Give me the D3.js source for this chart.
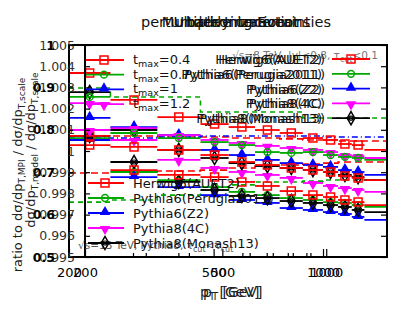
<!DOCTYPE html>
<html>
<head>
<meta charset="utf-8">
<script src="https://cdn.jsdelivr.net/npm/d3@7"></script>
<style>
body{margin:0;background:#fff}
text{font-family:"DejaVu Sans",sans-serif}
</style>
</head>
<body>
<svg id="chart" width="411" height="319"></svg>
<script>
// pT bins (GeV)
var binLo  = [200, 260, 350, 460, 550, 650, 760, 880, 1000, 1100, 1200, 1300];
var binHi  = [260, 350, 460, 550, 650, 760, 880, 1000, 1100, 1200, 1300, 2000];
var binMid = [228, 302, 401, 503, 598, 703, 818, 938, 1049, 1149, 1249, 1612];

// marker series (ratios)
var tmaxRed  = [1.00368, 1.00241, 1.00160, 1.00127, 1.00113, 1.00099, 1.00085, 1.00061, 1.00052, 1.00033, 1.00028, 1.00005];
var greenUp  = [1.00255, 1.00085, 1.00061, 1.00042, 1.00028, 0.99995, 0.99991, 0.99995, 0.99981, 0.99972, 0.99967, 0.99958];
var magUp    = [1.00226, 1.00108, 1.00075, 1.00052, 1.00038, 1.00024, 1.00014, 1.00005, 0.99995, 0.99981, 0.99976, 0.99967];
var blueUp   = [1.00156, 1.00113, 1.00075, 1.00005, 0.99981, 0.99958, 0.99943, 0.99934, 0.99925, 0.99910, 0.99901, 0.99887];
var redUp    = [1.00028, 1.00019, 1.00005, 0.99981, 0.99948, 0.99934, 0.99920, 0.99910, 0.99901, 0.99882, 0.99873, 0.99863];
var blackUp  = [1.00278, 1.00099, 1.00005, 0.99967, 0.99943, 0.99929, 0.99920, 0.99910, 0.99901, 0.99887, 0.99877, 0.99863];
var magMid   = [1.00099, 1.00052, 0.99958, 0.99920, 0.99901, 0.99887, 0.99873, 0.99849, 0.99835, 0.99825, 0.99816, 0.99807];
var redLow   = [1.00071, 0.99910, 0.99887, 0.99877, 0.99854, 0.99835, 0.99811, 0.99792, 0.99783, 0.99769, 0.99759, 0.99745];
var blackLow = [1.00071, 0.99948, 0.99854, 0.99816, 0.99788, 0.99778, 0.99764, 0.99755, 0.99745, 0.99736, 0.99722, 0.99712];
var blueLow  = [1.00052, 0.99877, 0.99830, 0.99792, 0.99769, 0.99755, 0.99731, 0.99722, 0.99712, 0.99703, 0.99689, 0.99675];
var greenLow = [1.00061, 0.99901, 0.99863, 0.99830, 0.99807, 0.99792, 0.99778, 0.99769, 0.99759, 0.99755, 0.99745, 0.99736];

// step (dashed) curves
var greenDashUp = [1.00297, 1.00255, 1.00255, 1.00184, 1.00184, 1.00184, 1.00184, 1.00156, 1.00156, 1.00156, 1.00156, 1.00156];
var redDashUp   = [1.00071, 1.00071, 1.00066, 1.00066, 1.00061, 1.00061, 1.00057, 1.00052, 1.00052, 1.00047, 1.00047, 1.00047];
var blueDashUp  = [1.00061, 1.00061, 1.00066, 1.00071, 1.00071, 1.00071, 1.00071, 1.00071, 1.00066, 1.00066, 1.00066, 1.00066];
var redDashLow  = [0.99896, 0.99901, 0.99906, 0.99910, 0.99920, 0.99929, 0.99934, 0.99939, 0.99943, 0.99948, 0.99948, 0.99948];
var greenDashLow= [0.99759, 0.99769, 0.99792, 0.99816, 0.99840, 0.99854, 0.99854, 0.99858, 0.99863, 0.99863, 0.99863, 0.99863];

// axes ticks / labels
var xMajor = [200, 500, 1000];
var xMinor = [300, 400, 600, 700, 800, 900];
var yTicksB = [0.995, 0.996, 0.997, 0.998, 0.999, 1, 1.001, 1.002, 1.003, 1.004, 1.005];
var yTicksA = [0.5, 0.6, 0.7, 0.8, 0.9, 1];
var titles = ["perturbative uncertainties", "Multiple Interactions", "Underlying Event", "hadronization"];
var tmaxLabels = ["0.4", "0.7", "1", "1.2"];
var genLabels = ["Herwig6(AUET2)", "Pythia6(Perugia2011)", "Pythia6(Z2)", "Pythia8(4C)", "Pythia8(Monash13)"];

var RED = "#ff0000", GRN = "#00a800", BLU = "#0000ff", MAG = "#ff00ff", BLK = "#000000";

var svg = d3.select("#chart");

var xA = d3.scaleLog().domain([200, 1500]).range([69, 387]);
var xB = d3.scaleLog().domain([200, 1500]).range([85, 387]);
var yB = d3.scaleLinear().domain([0.995, 1.005]).range([257, 45]);
var yA = d3.scaleLinear().domain([0.5, 1]).range([257, 45]);

svg.append("clipPath").attr("id", "clip")
  .append("rect").attr("x", 69).attr("y", 45).attr("width", 318).attr("height", 212);

// markers
function marker(g, shape, color, x, y){
  if(shape == "square"){
    g.append("path").attr("d", d3.symbol(d3.symbolSquare, 64)()).attr("transform", "translate(" + x + "," + y + ")")
      .attr("fill", "none").attr("stroke", color).attr("stroke-width", 1.5);
  }else if(shape == "circle"){
    g.append("path").attr("d", d3.symbol(d3.symbolCircle, 36)()).attr("transform", "translate(" + x + "," + y + ")")
      .attr("fill", "none").attr("stroke", color).attr("stroke-width", 1.5);
  }else if(shape == "up"){
    g.append("path").attr("d", d3.symbol(d3.symbolTriangle, 48)()).attr("transform", "translate(" + x + "," + (y - 1) + ")")
      .attr("fill", color);
  }else if(shape == "down"){
    g.append("path").attr("d", d3.symbol(d3.symbolTriangle, 48)()).attr("transform", "translate(" + x + "," + (y + 1) + ") rotate(180)")
      .attr("fill", color);
  }else if(shape == "diamond"){
    g.append("path").attr("d", d3.symbol(d3.symbolDiamond, 50)()).attr("transform", "translate(" + x + "," + y + ")")
      .attr("fill", "none").attr("stroke", color).attr("stroke-width", 1.5);
    g.append("circle").attr("cx", x).attr("cy", y).attr("r", 2).attr("fill", "none").attr("stroke", color).attr("stroke-width", 1.2);
  }
}

var data = svg.append("g").attr("clip-path", "url(#clip)");

// dashed step curves
function stepLine(vals, color, dash){
  var pts = vals.map(function(v, i){ return [binLo[i], v]; });
  pts.push([binHi[vals.length - 1], vals[vals.length - 1]]);
  data.append("path")
    .attr("d", d3.line().x(function(d){ return xA(d[0]); }).y(function(d){ return yB(d[1]); }).curve(d3.curveStepAfter)(pts))
    .attr("fill", "none").attr("stroke", color).attr("stroke-width", 1.6).attr("stroke-dasharray", dash);
}
stepLine(greenDashUp, GRN, "5,4");
stepLine(redDashUp, RED, "7,4");
stepLine(blueDashUp, BLU, "6,3,1,3");
stepLine(redDashLow, RED, "7,4");
stepLine(greenDashLow, GRN, "5,4");

function series(vals, color, shape){
  var g = data.append("g");
  vals.forEach(function(v, i){
    g.append("line").attr("x1", xA(binLo[i])).attr("x2", xA(binHi[i]))
      .attr("y1", yB(v)).attr("y2", yB(v)).attr("stroke", color).attr("stroke-width", 1.8);
    marker(g, shape, color, xA(binMid[i]), yB(v));
  });
}
series(greenLow, GRN, "circle");
series(blueLow, BLU, "up");
series(blackLow, BLK, "diamond");
series(redLow, RED, "square");
series(magMid, MAG, "down");
series(blackUp, BLK, "diamond");
series(blueUp, BLU, "up");
series(redUp, RED, "square");
series(magUp, MAG, "down");
series(greenUp, GRN, "circle");
series(tmaxRed, RED, "square");

// frames
svg.append("rect").attr("x", 69).attr("y", 45).attr("width", 318).attr("height", 212)
  .attr("fill", "none").attr("stroke", "#000").attr("stroke-width", 2);
svg.append("rect").attr("x", 85).attr("y", 45).attr("width", 302).attr("height", 212)
  .attr("fill", "none").attr("stroke", "#000").attr("stroke-width", 2);

function styleAxis(g, size){
  g.select(".domain").remove();
  g.selectAll("text").attr("font-size", size).attr("fill", "#000").style("font-family", "DejaVu Sans");
  g.selectAll("line").attr("stroke", "#000").attr("stroke-width", 1.2);
}

// x axes
[xA, xB].forEach(function(sc){
  var gx = svg.append("g").attr("transform", "translate(0,257)")
    .call(d3.axisBottom(sc).tickValues(xMajor).tickSizeInner(-8).tickSizeOuter(0).tickPadding(11).tickFormat(d3.format("d")));
  styleAxis(gx, 13);
  var gm = svg.append("g").attr("transform", "translate(0,257)")
    .call(d3.axisBottom(sc).tickValues(xMinor).tickSizeInner(-4).tickSizeOuter(0).tickFormat(""));
  styleAxis(gm, 13);
});

// y axes
var gyB = svg.append("g").attr("transform", "translate(85,0)")
  .call(d3.axisLeft(yB).tickValues(yTicksB).tickSizeInner(-5).tickSizeOuter(0).tickPadding(10)
    .tickFormat(function(d){ return d == 1 ? "1" : d3.format(".3f")(d); }));
styleAxis(gyB, 12.5);
gyB.selectAll("text").attr("fill", "#333");
var gyA = svg.append("g").attr("transform", "translate(69,0)")
  .call(d3.axisLeft(yA).tickValues(yTicksA).tickSizeInner(-4).tickSizeOuter(0).tickPadding(14)
    .tickFormat(function(d){ return d == 1 ? "1" : d3.format(".1f")(d); }));
styleAxis(gyA, 12.5);
gyA.selectAll("text").attr("font-weight", "bold");
var gyR = svg.append("g").attr("transform", "translate(387,0)")
  .call(d3.axisLeft(yB).tickValues(yTicksB).tickSizeInner(6).tickSizeOuter(0).tickFormat(""));
styleAxis(gyR, 12);

// titles (overlaid)
titles.forEach(function(t){
  svg.append("text").attr("x", 236).attr("y", 27).attr("text-anchor", "middle")
    .attr("font-size", 14.5).attr("fill", "#111").text(t);
});

// text with subscripts: parts = [[text, isSub], ...]
function subText(sel, parts, subSize){
  var low = false;
  parts.forEach(function(p){
    var ts = sel.append("tspan").text(p[0]);
    if(p[1]){
      ts.attr("font-size", subSize || 9);
      if(!low) ts.attr("dy", 3);
      low = true;
    }else if(low){
      ts.attr("dy", -3);
      low = false;
    }
  });
  return sel;
}
subText(svg.append("text").attr("transform", "translate(22,175) rotate(-90)").attr("text-anchor", "middle")
  .attr("font-size", 13).attr("fill", "#222"),
  [["ratio to dσ/dp"], ["T,MPI", 1], [" / dσ/dp"], ["T,scale", 1]]);
subText(svg.append("text").attr("transform", "translate(35,150) rotate(-90)").attr("text-anchor", "middle")
  .attr("font-size", 13).attr("fill", "#222"),
  [["dσ/dp"], ["T,model", 1], [" / dσ/dp"], ["T,scale", 1]]);
[200, 203].forEach(function(xx){
  subText(svg.append("text").attr("x", xx).attr("y", 297).attr("font-size", 14).attr("fill", "#222"),
    [["p"], ["T", 1], [" [GeV]"]], 10);
});

// small info texts
subText(svg.append("text").attr("x", 378).attr("y", 59).attr("text-anchor", "end").attr("font-size", 10.5).attr("fill", "#777"),
  [["√s=8 TeV, |y|<0.8, τ"], ["cut", 1], ["<0.1"]], 8);
subText(svg.append("text").attr("x", 78).attr("y", 249).attr("font-size", 10.5).attr("fill", "#555"),
  [["√s=13 TeV, Pythia8, τ"], ["cut", 1], ["<τ"], ["cut", 1]], 8);

// legends
var shapes = ["square", "circle", "up", "down", "diamond"];
var colors = [RED, GRN, BLU, MAG, BLK];
var leg = svg.append("g");

// t_max legend (top left)
tmaxLabels.forEach(function(lab, i){
  var y = 60 + i * 14.7;
  leg.append("line").attr("x1", 86).attr("x2", 124).attr("y1", y).attr("y2", y).attr("stroke", colors[i]).attr("stroke-width", 1.8);
  marker(leg, shapes[i], colors[i], 104, y);
  subText(leg.append("text").attr("x", 133).attr("y", y + 4).attr("font-size", 13).attr("fill", "#111"),
    [["t"], ["max", 1], ["=" + lab]], 9.5);
});

// generator legend (top right), drawn twice slightly shifted
genLabels.forEach(function(lab, i){
  var y = 59 + i * 14.8;
  leg.append("line").attr("x1", 332).attr("x2", 370).attr("y1", y).attr("y2", y).attr("stroke", colors[i]).attr("stroke-width", 1.8);
  marker(leg, shapes[i], colors[i], 351, y);
  [322, 325].forEach(function(xx){
    leg.append("text").attr("x", xx).attr("y", y + 5).attr("text-anchor", "end")
      .attr("font-size", 13).attr("fill", "#111").text(lab);
  });
});

// generator legend (bottom left)
genLabels.forEach(function(lab, i){
  var y = 183 + i * 15;
  leg.append("line").attr("x1", 88).attr("x2", 124).attr("y1", y).attr("y2", y).attr("stroke", colors[i]).attr("stroke-width", 1.8);
  marker(leg, shapes[i], colors[i], 105, y);
  leg.append("text").attr("x", 133).attr("y", y + 5).attr("font-size", 13).attr("fill", "#111").text(lab);
});
</script>
</body>
</html>
